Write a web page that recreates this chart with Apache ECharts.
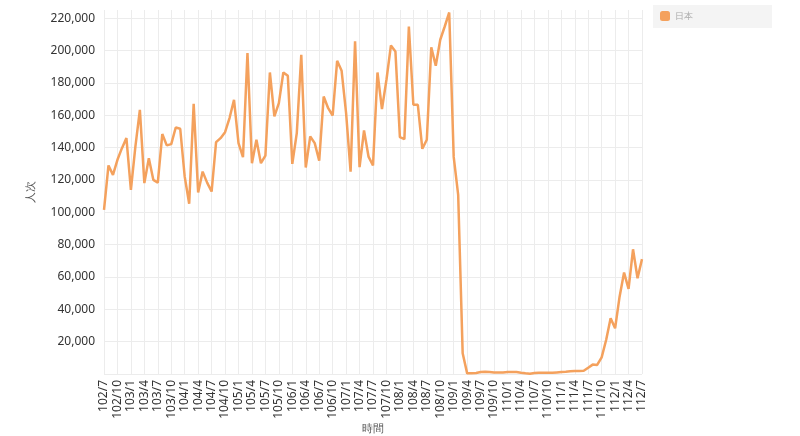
<!DOCTYPE html>
<html>
<head>
<meta charset="utf-8">
<script src="https://cdn.jsdelivr.net/npm/echarts@6/dist/echarts.min.js"></script>
<style>html,body{margin:0;padding:0;background:#fff;}#c{width:800px;height:436px;}</style>
</head>
<body>
<div id="c"></div>
<script>
// months from 102/7 to 112/7
const categories = [];
for (let y = 102, m = 7; y < 112 || (y === 112 && m <= 7); ) {
  categories.push(y + '/' + m);
  m++; if (m > 12) { m = 1; y++; }
}
const seriesName = '日本';
const japanValues = [
  101400, 128900, 123100, 132400, 139600, 145800, 113800, 140600, 163300, 118000,
  133400, 120000, 118300, 148300, 141300, 142100, 152400, 151600, 122000, 105200,
  167000, 112200, 125100, 118300, 112800, 143300, 145800, 149500, 158200, 169500,
  142700, 134000, 198400, 130300, 144800, 130300, 135000, 186400, 159200, 167400,
  186400, 184300, 129900, 148900, 197300, 127600, 146800, 142700, 131800, 171500,
  164300, 159800, 193600, 187400, 161200, 125100, 205600, 127900, 150500, 134400,
  128900, 186400, 163700, 181900, 203100, 199400, 146400, 145200, 214800, 166400,
  166400, 139200, 144800, 201900, 190500, 206600, 214800, 223500, 134200, 110700,
  12800, 400, 430, 600, 1200, 1400, 1200, 1000, 1000, 1000,
  1200, 1200, 1200, 800, 430, 200, 600, 800, 800, 800,
  800, 1000, 1200, 1400, 1650, 1800, 1800, 2000, 3900, 5800,
  5600, 10300, 21000, 34400, 28300, 47800, 62700, 52600, 77100, 59200,
  71000
];
const yTickStep = 20000;

const chart = echarts.init(document.getElementById('c'));
const splitColors = [];
for (let i = 0; i < 12; i++) splitColors.push('#ececec');
splitColors.push('rgba(0,0,0,0)');
chart.setOption({
  animation: false,
  textStyle: { fontFamily: 'Noto Sans, sans-serif' },
  legend: {
    data: [seriesName],
    right: 28, top: 5,
    backgroundColor: '#f4f4f4',
    padding: [6, 79, 7, 7],
    itemWidth: 10, itemHeight: 10,
    icon: 'roundRect',
    textStyle: { fontSize: 9, color: '#aaa' }
  },
  grid: { left: 104, right: 158, top: 10, bottom: 62, containLabel: false, outerBoundsMode: 'none' },
  xAxis: {
    type: 'category',
    data: categories,
    boundaryGap: false,
    name: '時間',
    nameLocation: 'middle',
    nameGap: 55,
    nameMoveOverlap: false,
    nameTextStyle: { fontSize: 11, color: '#555', verticalAlign: 'middle' },
    axisLine: { show: false },
    axisTick: { show: false },
    axisLabel: { interval: 2, rotate: 90, fontSize: 12, color: '#333', margin: 6 },
    splitLine: { show: true, interval: 2, lineStyle: { color: '#ececec' } }
  },
  yAxis: {
    type: 'value',
    min: 0, max: 225000, interval: yTickStep,
    name: '人次',
    nameLocation: 'middle',
    nameGap: 68,
    nameMoveOverlap: false,
    nameTextStyle: { fontSize: 11, color: '#555' },
    axisLine: { show: false },
    axisTick: { show: false },
    axisLabel: {
      fontSize: 12, color: '#333', margin: 9,
      formatter: function (v) {
        if (v === 0 || v % yTickStep !== 0) return '';
        return v.toLocaleString('en-US');
      }
    },
    splitLine: { show: true, lineStyle: { color: splitColors } }
  },
  series: [{
    name: seriesName,
    type: 'line',
    data: japanValues,
    showSymbol: false,
    symbol: 'none',
    itemStyle: { color: '#F4A15D' },
    lineStyle: { color: '#F4A15D', width: 2.5 }
  }]
});
</script>
</body>
</html>
